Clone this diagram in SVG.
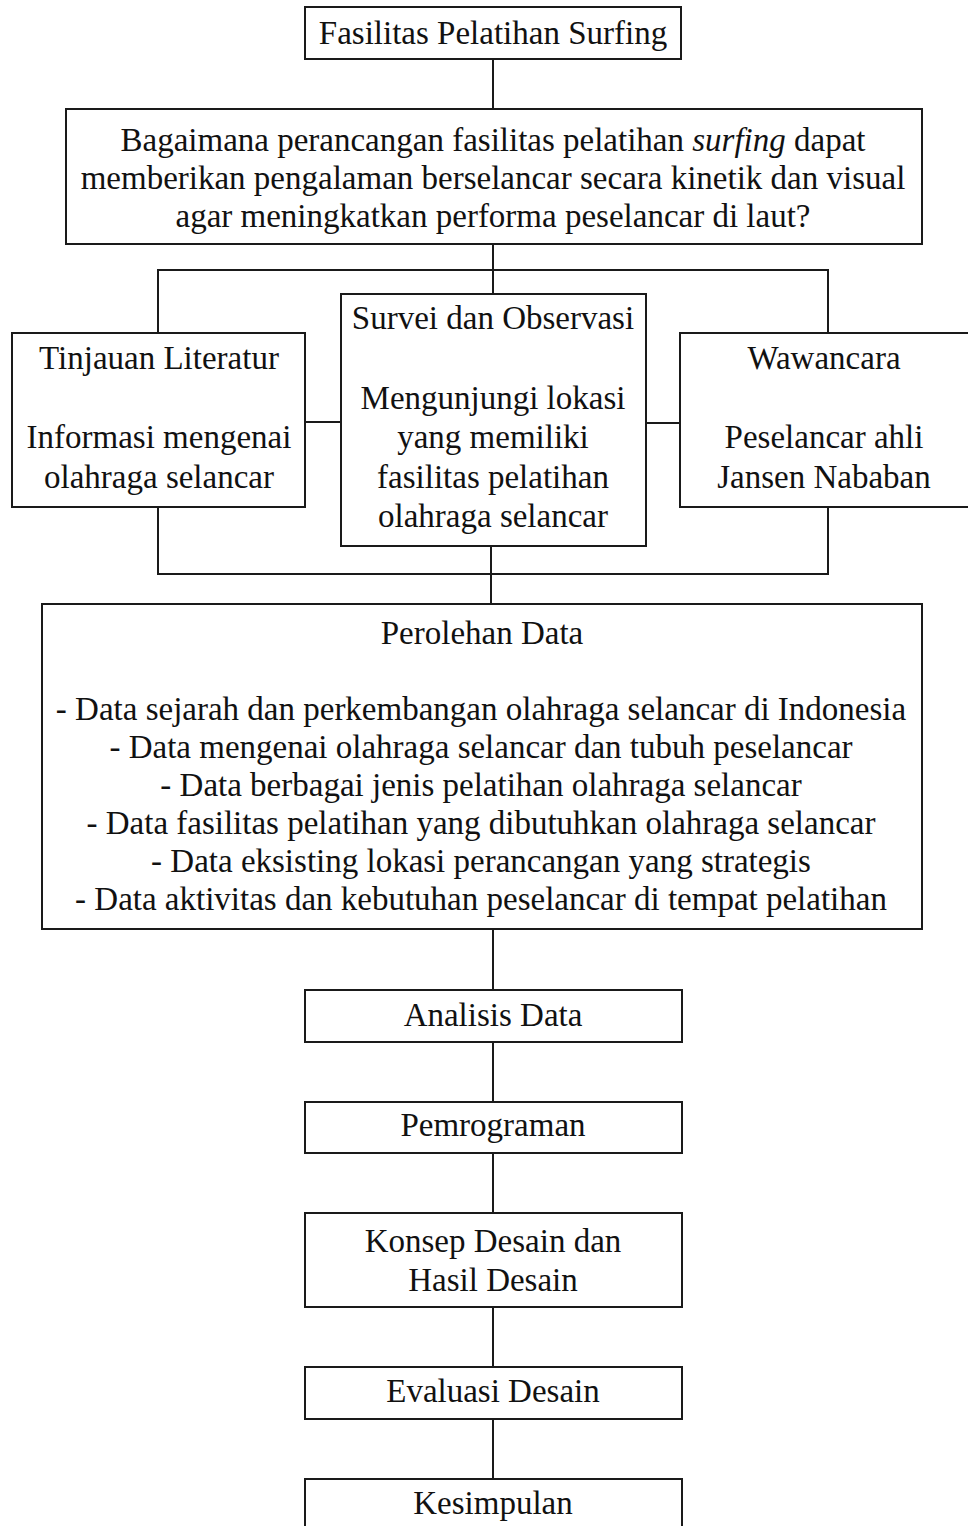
<svg xmlns="http://www.w3.org/2000/svg" width="968" height="1526" viewBox="0 0 968 1526">
<style>
.box{fill:#fff;stroke:#1a1a1a;stroke-width:2}
.ln{fill:none;stroke:#1a1a1a;stroke-width:2}
text{font-family:"Liberation Serif","Times New Roman",serif;font-size:33px;fill:#111;text-anchor:middle}
</style>
<rect width="968" height="1526" fill="#fff"/>
<g id="connectors">
<path class="ln" d="M493 59V109"/>
<path class="ln" d="M493 244V294"/>
<path class="ln" d="M158 333V270H828V333"/>
<path class="ln" d="M305 422H341"/>
<path class="ln" d="M646 423H680"/>
<path class="ln" d="M158 507V574H828V507"/>
<path class="ln" d="M491 546V604"/>
<path class="ln" d="M493 929V990"/>
<path class="ln" d="M493 1042V1102"/>
<path class="ln" d="M493 1153V1213"/>
<path class="ln" d="M493 1307V1367"/>
<path class="ln" d="M493 1419V1479"/>
</g>
<g id="n-title">
<rect class="box" x="305" y="7" width="376" height="52"/>
<text x="493" y="44">Fasilitas Pelatihan Surfing</text>
</g>
<g id="n-question">
<rect class="box" x="66" y="109" width="856" height="135"/>
<text x="493" y="151">Bagaimana perancangan fasilitas pelatihan <tspan font-style="italic">surfing</tspan> dapat</text>
<text x="493" y="189">memberikan pengalaman berselancar secara kinetik dan visual</text>
<text x="493" y="227">agar meningkatkan performa peselancar di laut?</text>
</g>
<g id="n-literatur">
<rect class="box" x="12" y="333" width="293" height="174"/>
<text x="159" y="369">Tinjauan Literatur</text>
<text x="159" y="448">Informasi mengenai</text>
<text x="159" y="488">olahraga selancar</text>
</g>
<g id="n-survei">
<rect class="box" x="341" y="294" width="305" height="252"/>
<text x="493" y="329">Survei dan Observasi</text>
<text x="493" y="409">Mengunjungi lokasi</text>
<text x="493" y="448">yang memiliki</text>
<text x="493" y="488">fasilitas pelatihan</text>
<text x="493" y="527">olahraga selancar</text>
</g>
<g id="n-wawancara">
<rect class="box" x="680" y="333" width="300" height="174"/>
<text x="824" y="369">Wawancara</text>
<text x="824" y="448">Peselancar ahli</text>
<text x="824" y="488">Jansen Nababan</text>
</g>
<g id="n-data">
<rect class="box" x="42" y="604" width="880" height="325"/>
<text x="482" y="644">Perolehan Data</text>
<text x="481" y="720">- Data sejarah dan perkembangan olahraga selancar di Indonesia</text>
<text x="481" y="758">- Data mengenai olahraga selancar dan tubuh peselancar</text>
<text x="481" y="796">- Data berbagai jenis pelatihan olahraga selancar</text>
<text x="481" y="834">- Data fasilitas pelatihan yang dibutuhkan olahraga selancar</text>
<text x="481" y="872">- Data eksisting lokasi perancangan yang strategis</text>
<text x="481" y="910">- Data aktivitas dan kebutuhan peselancar di tempat pelatihan</text>
</g>
<g id="n-analisis">
<rect class="box" x="305" y="990" width="377" height="52"/>
<text x="493" y="1026">Analisis Data</text>
</g>
<g id="n-pemrograman">
<rect class="box" x="305" y="1102" width="377" height="51"/>
<text x="493" y="1136">Pemrograman</text>
</g>
<g id="n-konsep">
<rect class="box" x="305" y="1213" width="377" height="94"/>
<text x="493" y="1252">Konsep Desain dan</text>
<text x="493" y="1291">Hasil Desain</text>
</g>
<g id="n-evaluasi">
<rect class="box" x="305" y="1367" width="377" height="52"/>
<text x="493" y="1402">Evaluasi Desain</text>
</g>
<g id="n-kesimpulan">
<rect class="box" x="305" y="1479" width="377" height="60"/>
<text x="493" y="1514">Kesimpulan</text>
</g>
</svg>
